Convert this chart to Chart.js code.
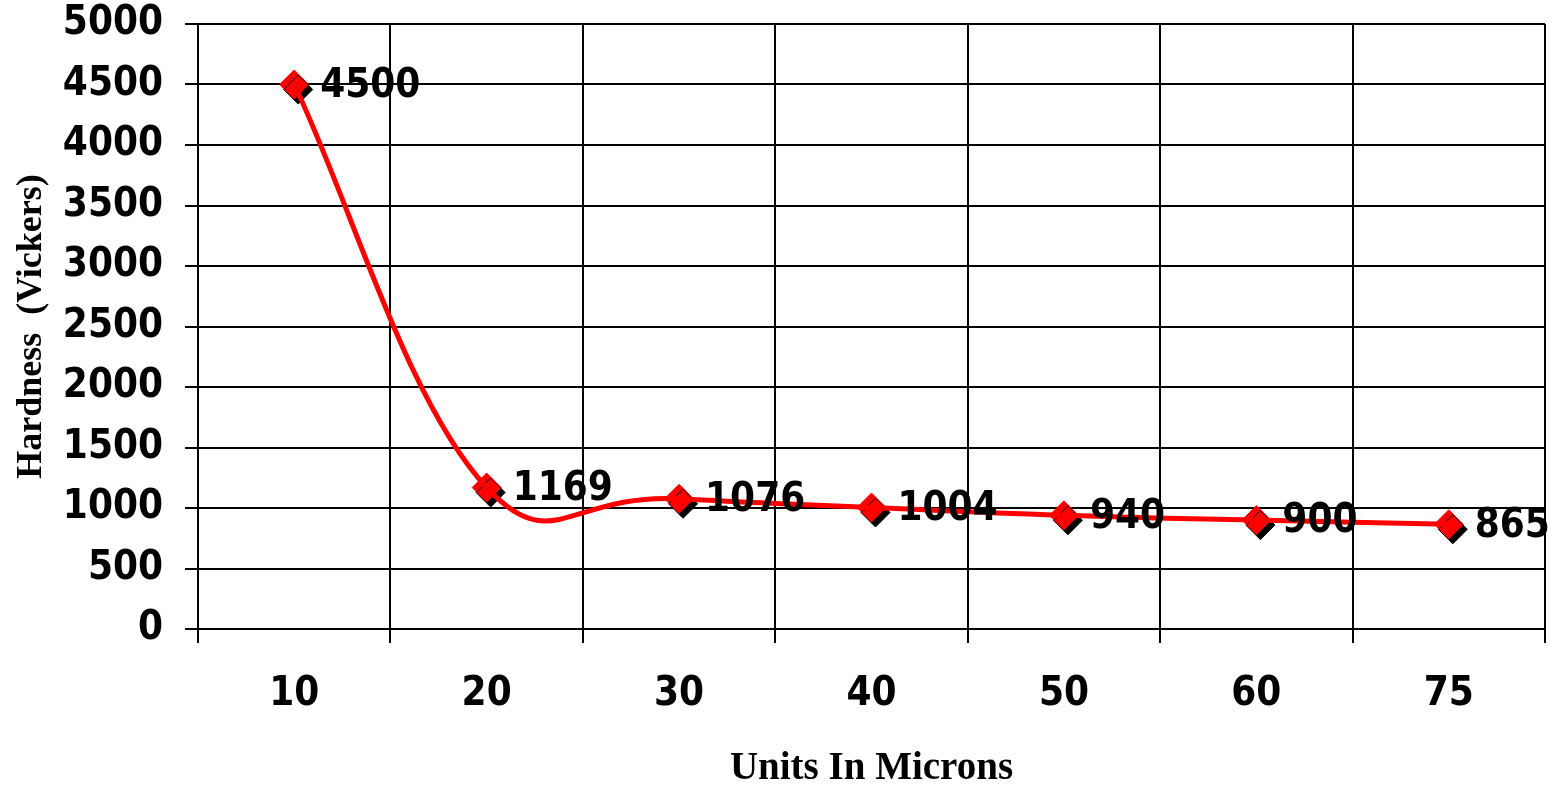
<!DOCTYPE html>
<html>
<head>
<meta charset="utf-8">
<style>
  html, body { margin: 0; padding: 0; background: #ffffff; }
  #wrap { width: 1564px; height: 786px; position: relative; }
</style>
<script src="https://cdn.jsdelivr.net/npm/chart.js@4/dist/chart.umd.min.js"></script>
</head>
<body>
<div id="wrap"><canvas id="c"></canvas></div>
<script>
const categories = ['10', '20', '30', '40', '50', '60', '75'];
const hardness = [4500, 1169, 1076, 1004, 940, 900, 865];
const yTicks = [0, 500, 1000, 1500, 2000, 2500, 3000, 3500, 4000, 4500, 5000];
const xTitle = 'Units In Microns';
const yTitle = 'Hardness  (Vickers)';

const tickFont = { family: "'DejaVu Sans Condensed', 'DejaVu Sans', sans-serif", weight: 'bold', size: 40 };
const xTitleFont = { family: "'Liberation Serif', 'Times New Roman', serif", weight: 'bold', size: 39, lineHeight: 0.9 };
const yTitleFont = { family: "'Liberation Serif', 'Times New Roman', serif", weight: 'bold', size: 36 };

const valueLabels = {
  id: 'valueLabels',
  beforeDatasetDraw(chart, args) {
    if (args.index === 2) {
      const ctx = chart.ctx;
      ctx.save();
      ctx.shadowColor = '#000000';
      ctx.shadowOffsetX = 4;
      ctx.shadowOffsetY = 5;
      ctx.shadowBlur = 0;
    }
  },
  afterDatasetDraw(chart, args) {
    if (args.index === 2) {
      chart.ctx.restore();
    }
  },
  afterDatasetsDraw(chart) {
    const ctx = chart.ctx;
    const meta = chart.getDatasetMeta(2);
    const data = chart.data.datasets[2].data;
    ctx.save();
    ctx.font = `bold ${tickFont.size}px ${tickFont.family}`;
    ctx.fillStyle = '#000000';
    ctx.textAlign = 'left';
    ctx.textBaseline = 'middle';
    meta.data.forEach((pt, i) => {
      ctx.fillText(String(data[i]), pt.x + 26, pt.y + 2);
    });
    ctx.restore();
  }
};

new Chart(document.getElementById('c'), {
  type: 'line',
  data: {
    labels: categories,
    datasets: [
      {
        // steep first stretch (10 -> 20), gentler smoothing
        data: hardness,
        borderColor: '#ff0000',
        borderWidth: 5,
        tension: 0.3,
        pointRadius: 0,
        pointHoverRadius: 0,
        fill: false,
        segment: { borderColor: (c) => (c.p0DataIndex === 0 ? undefined : 'rgba(0,0,0,0)') }
      },
      {
        // remaining stretch (20 -> 75), stronger smoothing
        data: hardness,
        borderColor: '#ff0000',
        borderWidth: 5,
        tension: 0.57,
        pointRadius: 0,
        pointHoverRadius: 0,
        fill: false,
        segment: { borderColor: (c) => (c.p0DataIndex === 0 ? 'rgba(0,0,0,0)' : undefined) }
      },
      {
        data: hardness,
        showLine: false,
        pointStyle: 'rectRot',
        pointRadius: 14.5,
        pointHoverRadius: 14.5,
        pointBackgroundColor: '#ff0000',
        pointBorderColor: '#ff0000',
        pointBorderWidth: 1
      }
    ]
  },
  options: {
    responsive: true,
    maintainAspectRatio: false,
    animation: false,
    events: [],
    layout: { padding: { top: 24, right: 19, bottom: 0, left: 10 } },
    plugins: {
      legend: { display: false },
      tooltip: { enabled: false }
    },
    scales: {
      x: {
        type: 'category',
        offset: true,
        grid: { offset: true, color: '#000000', lineWidth: 2, tickLength: 14, drawTicks: true },
        border: { display: true, color: '#000000', width: 2 },
        ticks: { font: tickFont, color: '#000000', padding: 28, maxRotation: 0 },
        title: { display: true, text: xTitle, font: xTitleFont, color: '#000000', padding: { top: 0, bottom: 0 } },
        afterFit(scale) { scale.height = 157; scale.paddingLeft = 0; scale.paddingRight = 0; }
      },
      y: {
        min: 0,
        max: 5000,
        afterBuildTicks(scale) { scale.ticks = yTicks.map(v => ({ value: v })); },
        grid: { color: '#000000', lineWidth: 2, tickLength: 13 },
        border: { display: true, color: '#000000', width: 2 },
        ticks: { font: tickFont, color: '#000000', padding: 22, callback: (v) => String(v) },
        title: { display: true, text: yTitle, font: yTitleFont, color: '#000000', padding: { top: 0, bottom: 12 } },
        afterFit(scale) { scale.width = 188; scale.paddingTop = 0; scale.paddingBottom = 0; }
      }
    }
  },
  plugins: [valueLabels]
});
</script>
</body>
</html>
